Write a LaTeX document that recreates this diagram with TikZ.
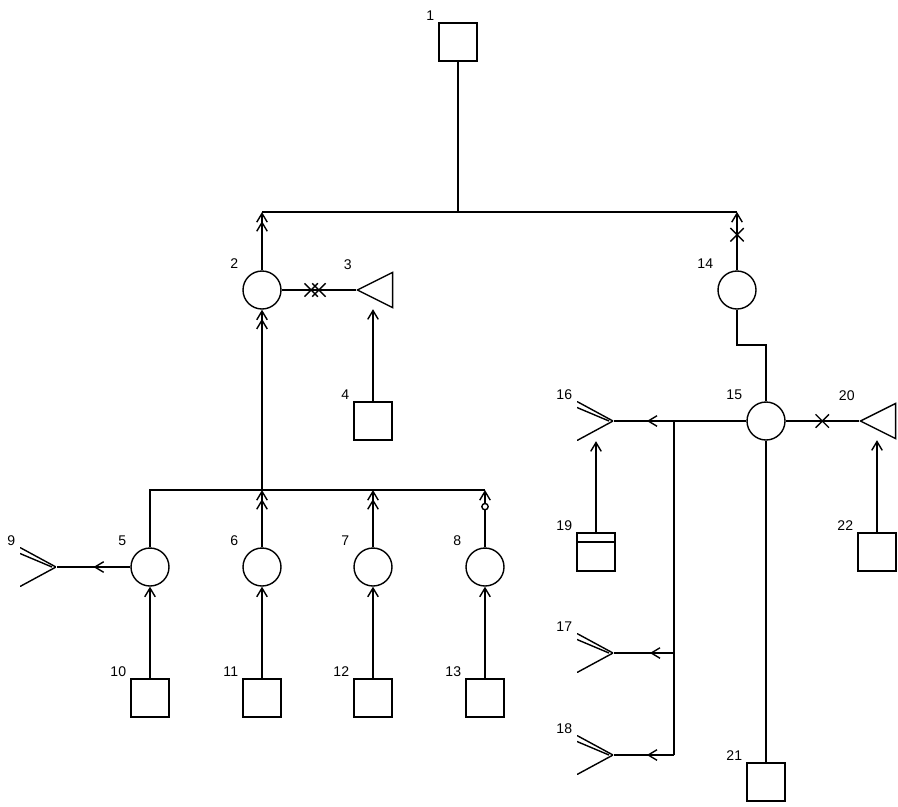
\documentclass[tikz,border=0pt]{standalone}
\usepackage{fontspec}
\setmainfont{Liberation Sans}
\usepackage{tikz}
\usetikzlibrary{
	arrows.meta,
	calc,
	decorations.markings
}

\tikzset{
	box/.style={draw, rectangle, minimum width=0.76cm, minimum height=0.76cm, inner sep=0pt},
	unit/.style={draw, circle, minimum size=0.76cm, inner sep=0pt},
	tri/.style={rectangle, minimum width=0.74cm, minimum height=0.74cm, inner sep=0pt,
		path picture={\draw ([xshift=0.5pt]path picture bounding box.west)
			-- ([shift={(-0.5pt,-0.5pt)}]path picture bounding box.north east)
			-- ([shift={(-0.5pt,0.5pt)}]path picture bounding box.south east) -- cycle;}},
	fork/.style={rectangle, minimum width=0.72cm, minimum height=0.78cm, inner sep=0pt,
		path picture={\draw (path picture bounding box.north west) -- (path picture bounding box.east)
			([yshift=-0.12cm]path picture bounding box.north west) -- ([xshift=-0.08cm]path picture bounding box.east)
			(path picture bounding box.south west) -- (path picture bounding box.east);}},
	store/.style={box,
		path picture={\draw ([yshift=-0.18cm]path picture bounding box.north west)
			-- ([yshift=-0.18cm]path picture bounding box.north east);}},
	num/.style={anchor=south east, inner xsep=2pt, inner ysep=0.5pt, font=\fontsize{8}{9}\selectfont},
	arr/.style={-{Straight Barb[length=5pt,width=6pt]}},
	dbl/.style={-{Straight Barb[length=5pt,width=6pt,sep=-1pt] Straight Barb[length=5pt,width=6pt]}},
	midarr/.style={postaction={decorate, decoration={markings,
		mark=at position #1 with {\arrow{Straight Barb[length=5pt,width=6pt]}}}}},
	xmark/.style={postaction={decorate, decoration={markings,
		mark=at position #1 with {\draw[-] (-3.8pt,-3.8pt) -- (3.8pt,3.8pt) (-3.8pt,3.8pt) -- (3.8pt,-3.8pt);}}}},
	xxmark/.style={postaction={decorate, decoration={markings,
		mark=at position #1 with {\draw[-] (-6pt,-3.8pt) -- (1.6pt,3.8pt) (-6pt,3.8pt) -- (1.6pt,-3.8pt)
			(-1.6pt,-3.8pt) -- (6pt,3.8pt) (-1.6pt,3.8pt) -- (6pt,-3.8pt);}}}},
	omark/.style={postaction={decorate, decoration={markings,
		mark=at position #1 with {\draw[-, fill=white] (0,0) circle (1.8pt);}}}}
}

\begin{document}
\begin{tikzpicture}[x=0.02cm, y=-0.02cm, line width=0.8pt]
	
	\useasboundingbox (0,0) rectangle (898,806);
	
	% Units
	\node[box] (b1) at (458,42) {};
	\node[unit] (c2) at (262,290) {};
	\node[tri] (t3) at (375,290) {};
	\node[box] (b4) at (373,421) {};
	\node[fork] (f9) at (38,567) {};
	\node[unit] (c14) at (737,290) {};
	\node[unit] (c15) at (766,421) {};
	\node[fork] (f16) at (595,421) {};
	\node[fork] (f17) at (595,653) {};
	\node[fork] (f18) at (595,755) {};
	\node[store] (b19) at (596,552) {};
	\node[tri] (t20) at (878,421) {};
	\node[box] (b21) at (766,782) {};
	\node[box] (b22) at (877,552) {};
	
	\coordinate (top) at (458,212);
	\coordinate (bus) at (262,490);
	\coordinate (step) at (751,345);
	\coordinate (j1) at (674,421);
	
	% Lower row
	\foreach \x/\i/\j in {150/5/10, 262/6/11, 373/7/12, 485/8/13} {
		\node[unit] (c\i) at (\x,567) {};
		\node[box] (b\j) at (\x,698) {};
		\draw[arr] (b\j) -- (c\i);
	}
	
	% Top branch
	\draw (b1) -- (top);
	\draw (c2 |- top) -- (c14 |- top);
	\draw[dbl] (c2) -- (c2 |- top);
	\draw[arr, xmark=0.61] (c14) -- (c14 |- top);
	
	% Left branch
	\draw[xxmark=0.45] (c2) -- (t3.west);
	\draw[arr] (b4) -- (b4 |- t3.south);
	\draw (c5) |- (c8 |- bus);
	\draw[dbl] (bus) -- (c2);
	\draw[dbl] (c6) -- (bus);
	\draw[dbl] (c7) -- (c7 |- bus);
	\draw[arr, omark=0.71] (c8) -- (c8 |- bus);
	\draw[midarr=0.5] (c5) -- (f9.east);
	
	% Right branch
	\draw (c14) |- (step) -| (c15);
	\draw (c15) -- (j1);
	\draw (j1) -- (j1 |- f18);
	\draw[midarr=0.45] (j1) -- (f16.east);
	\draw[midarr=0.4] (j1 |- f17) -- (f17.east);
	\draw[midarr=0.45] (j1 |- f18) -- (f18.east);
	\draw[arr] (b19) -- (b19 |- f16.south);
	\draw (c15) -- (b21);
	\draw[xmark=0.5] (c15) -- (t20.west);
	\draw[arr] (b22) -- (b22 |- t20.south);
	
	% Numbers
	\foreach \n/\t in {b1/1, c2/2, t3/3, b4/4, c5/5, c6/6, c7/7, c8/8, f9/9, b10/10, b11/11,
		b12/12, b13/13, c14/14, c15/15, f16/16, f17/17, f18/18, b19/19, t20/20, b21/21, b22/22}
		\node[num] (n\t) at (\n.west |- \n.north) {\t};
	
\end{tikzpicture}
\end{document}
